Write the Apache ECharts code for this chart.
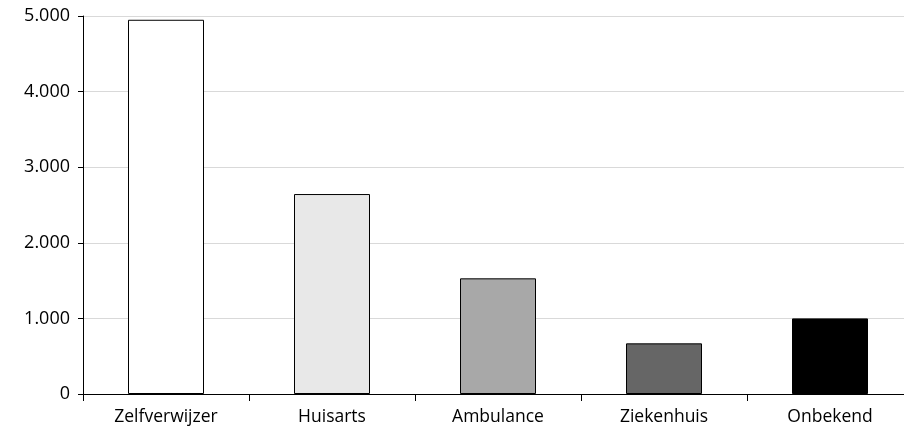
<!DOCTYPE html>
<html>
<head>
<meta charset="utf-8">
<script src="https://cdn.jsdelivr.net/npm/echarts@6/dist/echarts.min.js"></script>
<style>html,body{margin:0;padding:0;background:#fff;overflow:hidden;width:904px;height:428px}#c{width:913px;height:428px}</style>
</head>
<body>
<div id="c"></div>
<script>
const categories = ["Zelfverwijzer", "Huisarts", "Ambulance", "Ziekenhuis", "Onbekend"];
const values = [4950, 2645, 1530, 670, 1000];
const barColors = ["#ffffff", "#e8e8e8", "#a8a8a8", "#666666", "#000000"];

const chart = echarts.init(document.getElementById('c'), null, {renderer: 'canvas'});
chart.setOption({
  animation: false,
  grid: {left: 83, top: 16, right: 0, bottom: 34, containLabel: false},
  xAxis: {
    type: 'category',
    data: categories,
    axisLine: {lineStyle: {color: '#000', width: 1}},
    axisTick: {show: true, length: 7, lineStyle: {color: '#000'}},
    axisLabel: {color: '#000', fontSize: 17.5, fontFamily: 'Open Sans', margin: 14}
  },
  yAxis: {
    type: 'value',
    min: 0, max: 5000, interval: 1000,
    axisLine: {show: true, lineStyle: {color: '#000', width: 1}},
    axisTick: {show: true, length: 5, lineStyle: {color: '#000'}},
    splitLine: {lineStyle: {color: '#d9d9d9', width: 1}},
    axisLabel: {
      color: '#000', fontSize: 18, fontFamily: 'Open Sans', margin: 13,
      formatter: v => v.toString().replace(/\B(?=(\d{3})+(?!\d))/g, '.')
    }
  },
  series: [{
    type: 'bar',
    barWidth: 76,
    data: values.map((v, i) => ({value: v, itemStyle: {color: barColors[i]}})),
    itemStyle: {borderColor: '#000', borderWidth: 1}
  }]
});
</script>
</body>
</html>
